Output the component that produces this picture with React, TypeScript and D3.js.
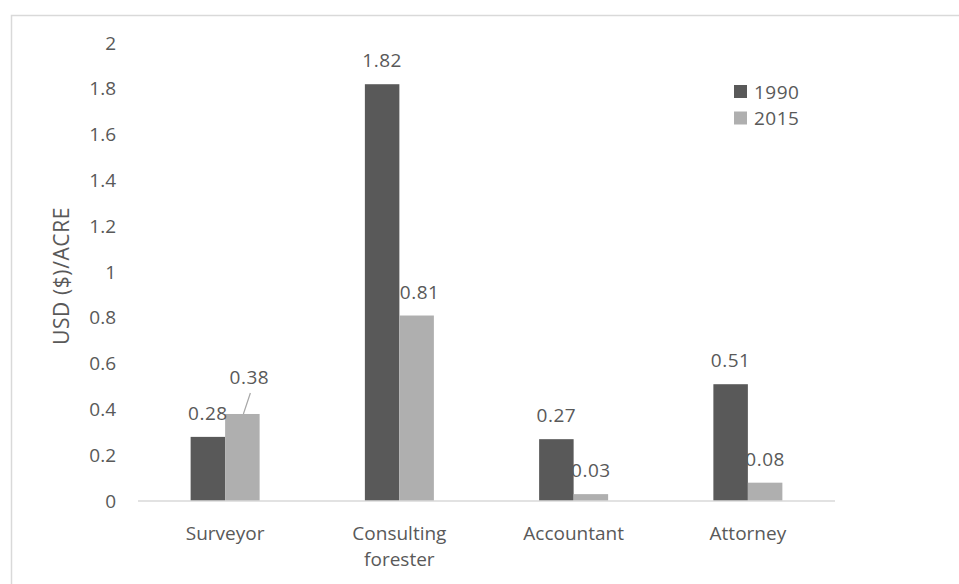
import * as d3 from "d3";

const categories = ["Surveyor", "Consulting forester", "Accountant", "Attorney"];
const categoryLines = [["Surveyor"], ["Consulting", "forester"], ["Accountant"], ["Attorney"]];
const seriesNames = ["1990", "2015"];
const values1990 = [0.28, 1.82, 0.27, 0.51];
const values2015 = [0.38, 0.81, 0.03, 0.08];
const yTicks = [0, 0.2, 0.4, 0.6, 0.8, 1, 1.2, 1.4, 1.6, 1.8, 2];

const colors = ["#595959", "#afafaf"];
const textColor = "#595959";
const font = "'Open Sans', sans-serif";

export default function App() {
  const width = 959;
  const height = 584;
  const marginLeft = 138;
  const marginRight = 124;
  const marginTop = 43;
  const baseline = 501;

  const x = d3
    .scaleBand()
    .domain(categories)
    .range([marginLeft, width - marginRight])
    .padding(0);

  const groupWidth = x.bandwidth() * 0.396;
  const xs = d3.scaleBand().domain(seriesNames).range([0, groupWidth]).padding(0);

  const y = d3.scaleLinear().domain([0, 2]).range([baseline, marginTop]);

  const series = [values1990, values2015];

  return (
    <svg
      width={width}
      height={height}
      style={{ position: "absolute", left: 0, top: 0, background: "#fff" }}
      fontFamily={font}
    >
      <rect x={11.5} y={15.5} width={980} height={600} fill="none" stroke="#d9d9d9" strokeWidth={1.5} />

      {/* y tick labels */}
      <g fontSize={19} fill={textColor} textAnchor="end">
        {yTicks.map((t) => (
          <text key={t} x={116} y={y(t)} dy="0.35em">
            {String(+t.toFixed(1))}
          </text>
        ))}
      </g>

      <text
        transform={`translate(69,${(y(0) + y(2)) / 2 + 4}) rotate(-90)`}
        textAnchor="middle"
        fontSize={21}
        fill={textColor}
        letterSpacing={0.6}
      >
        USD ($)/ACRE
      </text>

      {/* bars */}
      {series.map((vals, si) =>
        categories.map((c, ci) => {
          const x0 = (x(c) as number) + (x.bandwidth() - groupWidth) / 2 + (xs(seriesNames[si]) as number);
          return (
            <rect
              key={`${si}-${ci}`}
              x={x0}
              y={y(vals[ci])}
              width={xs.bandwidth()}
              height={y(0) - y(vals[ci])}
              fill={colors[si]}
            />
          );
        })
      )}

      <line x1={marginLeft} x2={width - marginRight} y1={baseline} y2={baseline} stroke="#d9d9d9" strokeWidth={1.5} />

      {/* data labels */}
      <g fontSize={19} fill={textColor} textAnchor="middle">
        {series.map((vals, si) =>
          categories.map((c, ci) => {
            const cx =
              (x(c) as number) + (x.bandwidth() - groupWidth) / 2 + (xs(seriesNames[si]) as number) + xs.bandwidth() / 2;
            // Surveyor 2015 label is pushed up with a leader line
            const lifted = si === 1 && ci === 0;
            const ty = y(vals[ci]) - (lifted ? 30 : 17);
            const shift = lifted ? 7 : si === 1 && ci === 1 ? 3 : 0;
            return (
              <g key={`${si}-${ci}`}>
                <text x={cx + shift} y={ty} letterSpacing={0.5}>
                  {vals[ci].toFixed(2)}
                </text>
                {lifted && (
                  <line x1={cx + 8} y1={ty + 9} x2={cx + 1} y2={y(vals[ci])} stroke="#a6a6a6" strokeWidth={1.2} />
                )}
              </g>
            );
          })
        )}
      </g>

      {/* category labels */}
      <g fontSize={19} fill={textColor} textAnchor="middle">
        {categories.map((c, ci) => (
          <text key={c} x={(x(c) as number) + x.bandwidth() / 2} y={540}>
            {categoryLines[ci].map((line, li) => (
              <tspan key={li} x={(x(c) as number) + x.bandwidth() / 2} dy={li === 0 ? 0 : 26}>
                {line}
              </tspan>
            ))}
          </text>
        ))}
      </g>

      {/* legend */}
      <g fontSize={19} fill={textColor}>
        {seriesNames.map((s, i) => (
          <g key={s} transform={`translate(734,${85 + i * 26.5})`}>
            <rect width={13} height={13} fill={colors[i]} />
            <text x={20} y={13.5} letterSpacing={0.5}>
              {s}
            </text>
          </g>
        ))}
      </g>
    </svg>
  );
}
